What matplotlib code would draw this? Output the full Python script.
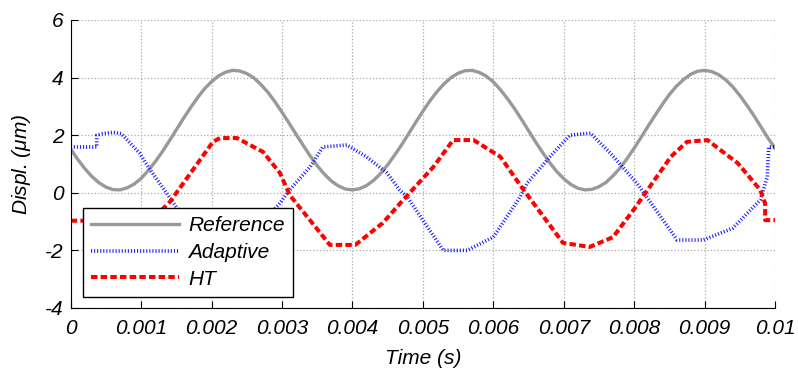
import numpy as np
import matplotlib.pyplot as plt

plt.rcParams['font.family'] = ['Liberation Sans', 'DejaVu Sans']
plt.rcParams['font.style'] = 'italic'
plt.rcParams['mathtext.fontset'] = 'custom'
plt.rcParams['mathtext.it'] = 'Liberation Sans:italic'
plt.rcParams['mathtext.rm'] = 'Liberation Sans:italic'
plt.rcParams['axes.unicode_minus'] = False

# reference displacement, sampled every 0.1 ms
ref = [1.52, 1.16, 0.84, 0.57, 0.35, 0.20, 0.11, 0.10, 0.17, 0.30,
       0.50, 0.77, 1.08, 1.42, 1.80, 2.19, 2.58, 2.95, 3.30, 3.61,
       3.86, 4.06, 4.19, 4.25, 4.23, 4.14, 3.99, 3.76, 3.49, 3.16,
       2.80, 2.42, 2.03, 1.65, 1.28, 0.94, 0.65, 0.41, 0.24, 0.13,
       0.10, 0.14, 0.25, 0.43, 0.67, 0.97, 1.31, 1.67, 2.06, 2.45,
       2.83, 3.19, 3.51, 3.78, 4.00, 4.15, 4.24, 4.25, 4.18, 4.05,
       3.85, 3.58, 3.27, 2.93, 2.55, 2.16, 1.77, 1.40, 1.05, 0.74,
       0.49, 0.29, 0.16, 0.10, 0.12, 0.21, 0.36, 0.59, 0.86, 1.19,
       1.55, 1.93, 2.32, 2.70, 3.07, 3.41, 3.70, 3.93, 4.11, 4.22,
       4.25, 4.21, 4.10, 3.92, 3.68, 3.38, 3.04, 2.68, 2.29, 1.90, 1.55]
t_ref = np.linspace(0, 0.01, len(ref))

# adaptive estimate
t_ad = [0.0, 0.00037, 0.00037, 0.00045, 0.0006, 0.00072, 0.00098, 0.00113,
        0.00141, 0.0019, 0.0024, 0.00297, 0.00311, 0.0034, 0.00358, 0.00392,
        0.0042, 0.00449, 0.00467, 0.00478, 0.00529, 0.00563, 0.006, 0.00638,
        0.00648, 0.00685, 0.00709, 0.00738, 0.00766, 0.00804, 0.00818,
        0.00861, 0.00898, 0.0094, 0.00979, 0.00989, 0.00991, 0.01]
adaptive = [1.59, 1.59, 2.0, 2.05, 2.1, 2.05, 1.37, 0.79,
            -0.18, -1.9, -1.9, -0.36, 0.1, 0.9, 1.59, 1.66,
            1.25, 0.69, 0.1, -0.15, -2.0, -2.0, -1.54, -0.15,
            0.33, 1.38, 2.0, 2.07, 1.38, 0.33, -0.15,
            -1.64, -1.64, -1.23, -0.25, 0.55, 1.59, 1.59]

# Hilbert transform estimate
t_ht = [0.0, 0.0003, 0.0006, 0.0008, 0.00141, 0.00202, 0.00212, 0.00236,
        0.00273, 0.00297, 0.00311, 0.00368, 0.00404, 0.00443, 0.00472,
        0.00515, 0.00543, 0.00572, 0.0061, 0.00643, 0.00699, 0.00737, 0.0077,
        0.00799, 0.00852, 0.00875, 0.00904, 0.00947, 0.00979, 0.00986,
        0.00986, 0.01]
ht = [-0.97, -0.97, -1.8, -1.8, -0.31, 1.77, 1.90, 1.90,
      1.42, 0.69, -0.08, -1.81, -1.81, -1.05, -0.25,
      0.90, 1.83, 1.83, 1.25, 0.1, -1.74, -1.88, -1.54,
      -0.6, 1.25, 1.77, 1.83, 1.03, 0.1, -0.37,
      -0.95, -0.95]

fig = plt.figure(figsize=(7.98, 3.70), dpi=100)
ax = fig.add_axes([0.0886, 0.1676, 0.8826, 0.7784])

ax.plot(t_ref, ref, color='#999999', lw=2.4, label='Reference')
ax.plot(t_ad, adaptive, color='#1a1aff', lw=2.6, ls=(0, (0.3, 0.55)),
        dash_capstyle='butt', label='Adaptive')
ax.plot(t_ht, ht, color='red', lw=2.9, ls=(0, (1.6, 0.8)),
        dash_capstyle='butt', label='HT')

ax.set_xlim(0, 0.01)
ax.set_ylim(-4, 6)
ax.set_xticks(np.arange(0, 0.0101, 0.001))
ax.set_xticklabels(['0', '0.001', '0.002', '0.003', '0.004', '0.005',
                    '0.006', '0.007', '0.008', '0.009', '0.01'])
ax.set_yticks([-4, -2, 0, 2, 4, 6])
ax.tick_params(direction='in', length=5, labelsize=15)
ax.tick_params(axis='x', pad=8)
ax.tick_params(axis='y', pad=5)
ax.grid(True, ls=':', color='#aaaaaa', lw=0.9)
ax.spines['top'].set_visible(False)
ax.spines['right'].set_visible(False)

ax.set_xlabel('Time (s)', fontsize=15, labelpad=8)
ax.set_ylabel(r'Displ. ($\mu$m)', fontsize=15, labelpad=9)

leg = ax.legend(loc='lower left', bbox_to_anchor=(0.0175, 0.038),
                borderaxespad=0, fontsize=15, handlelength=4.2,
                handletextpad=0.45, labelspacing=0.38, borderpad=0.4,
                fancybox=False, framealpha=1, edgecolor='black')
leg.get_frame().set_linewidth(1.0)

fig.savefig('out.png', dpi=100)
